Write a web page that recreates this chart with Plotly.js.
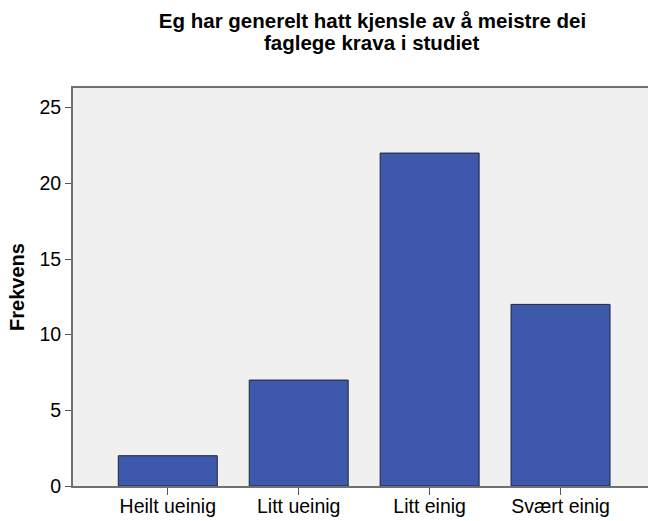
<!DOCTYPE html>
<html>
<head>
<meta charset="utf-8">
<script src="https://cdn.plot.ly/plotly-3.0.1.min.js"></script>
<style>html,body{margin:0;padding:0;background:#fff;}</style>
</head>
<body>
<div id="chart" style="width:648px;height:521px;"></div>
<script>
var categories = ["Heilt ueinig", "Litt ueinig", "Litt einig", "Svært einig"];
var frequencies = [2, 7, 22, 12];
var yTicks = [0, 5, 10, 15, 20, 25];
var titleLine1 = "Eg har generelt hatt kjensle av å meistre dei";
var titleLine2 = "faglege krava i studiet";
var yTitle = "Frekvens";

var trace = {
  type: "bar",
  x: [0, 1, 2, 3],
  y: frequencies,
  marker: {color: "#3E58AC", line: {color: "#1E2440", width: 1}},
  hoverinfo: "x+y"
};

var layout = {
  width: 648, height: 521,
  margin: {l: 73, r: 0, t: 88, b: 35},
  paper_bgcolor: "#ffffff",
  plot_bgcolor: "#F0F0F0",
  font: {family: "Liberation Sans, Arial, sans-serif", color: "#000"},
  bargap: 0.244,
  showlegend: false,
  title: {
    text: "<b>" + titleLine1 + "</b>",
    font: {size: 20.5, family: "Liberation Sans, Arial, sans-serif", color: "#000"},
    x: 372.5 / 648, xanchor: "center", xref: "container",
    y: 1 - 21 / 521, yanchor: "middle", yref: "container"
  },
  annotations: [{
    text: "<b>" + titleLine2 + "</b>",
    xref: "paper", yref: "paper",
    x: (372.5 - 73) / (648 - 73), y: 1 + (88 - 42) / (521 - 88 - 35),
    xanchor: "center", yanchor: "middle", showarrow: false,
    font: {size: 20.5, family: "Liberation Sans, Arial, sans-serif", color: "#000"}
  }],
  xaxis: {
    range: [-0.724, 3.668],
    tickmode: "array", tickvals: [0, 1, 2, 3], ticktext: categories,
    ticks: "outside", ticklen: 7, tickcolor: "#555", tickwidth: 1,
    ticklabelstandoff: -5,
    showline: true, linecolor: "#707070", linewidth: 2, mirror: true,
    showgrid: false, zeroline: false,
    tickfont: {size: 19.5, color: "#000"},
    fixedrange: true
  },
  yaxis: {
    range: [0, 26.3],
    tickmode: "array", tickvals: yTicks,
    ticks: "outside", ticklen: 6, tickcolor: "#555", tickwidth: 1,
    showline: true, linecolor: "#707070", linewidth: 2,
    showgrid: false, zeroline: false,
    tickfont: {size: 19.5, color: "#000"},
    title: {text: "<b>" + yTitle + "</b>", font: {size: 20, color: "#000"}, standoff: 9},
    fixedrange: true
  }
};

Plotly.newPlot("chart", [trace], layout, {displayModeBar: false, staticPlot: true});
</script>
</body>
</html>
